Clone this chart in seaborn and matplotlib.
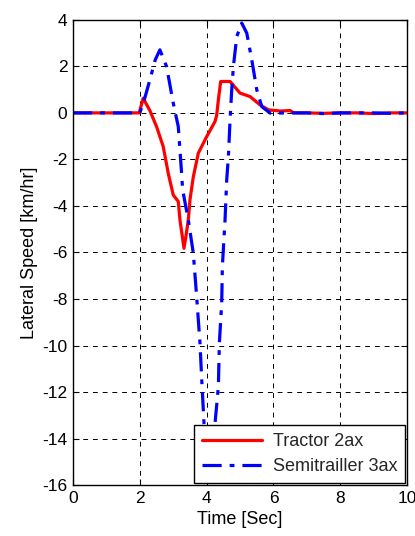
import matplotlib
matplotlib.use("Agg")
import matplotlib.pyplot as plt
import seaborn as sns
import pandas as pd

# Tractor 2ax
t_tractor = [0.0, 1.0, 1.98, 2.1, 2.3, 2.5, 2.7, 2.85, 3.0, 3.15, 3.2, 3.27, 3.32, 3.38, 3.45, 3.5,
             3.6, 3.75, 4.0, 4.25, 4.3, 4.35, 4.42, 4.7, 4.85, 5.0, 5.3, 5.6, 5.85, 6.2, 6.5, 6.6,
             7.0, 7.5, 8.0, 8.5, 9.0, 9.5, 10.0]
v_tractor = [0.0, 0.0, 0.0, 0.63, 0.1, -0.59, -1.45, -2.6, -3.53, -3.81, -4.6, -5.3, -5.82, -5.3, -4.6, -3.74,
             -2.75, -1.73, -1.02, -0.37, -0.1, 0.56, 1.35, 1.35, 1.1, 0.85, 0.7, 0.34, 0.13, 0.08, 0.1, 0.0,
             0.0, -0.02, 0.0, 0.0, -0.03, 0.0, 0.0]

# Semitrailler 3ax
t_semi = [0.0, 1.0, 2.0, 2.16, 2.3, 2.46, 2.6, 2.8, 3.0, 3.15, 3.25, 3.28, 3.45, 3.6, 3.7, 3.8,
          3.85, 3.92, 4.0, 4.08, 4.17, 4.25, 4.35, 4.38, 4.45, 4.47, 4.55, 4.6, 4.65, 4.7, 4.75,
          4.8, 4.9, 5.05, 5.2, 5.35, 5.5, 5.65, 5.9, 6.5, 7.0, 7.5, 8.0, 8.5, 9.0, 9.5, 10.0]
v_semi = [0.0, 0.0, 0.0, 0.7, 1.42, 2.28, 2.71, 1.99, 0.42, -0.59, -2.6, -3.3, -4.6, -6.03, -7.9, -9.9,
          -11.4, -13.35, -14.6, -15.2, -14.6, -13.35, -11.77, -9.9, -8.18, -6.6, -4.6, -2.88, -1.88, -0.3, 0.99,
          1.99, 3.28, 3.86, 3.43, 2.28, 0.99, 0.27, -0.01, 0.0, 0.0, -0.03, 0.0, 0.0, 0.0, -0.02, 0.0]

sns.set_theme(style="white")
plt.rcParams['font.family'] = ['Liberation Sans', 'DejaVu Sans']
plt.rcParams['axes.unicode_minus'] = False

fig = plt.figure(figsize=(4.15, 5.36), dpi=100)
ax = fig.add_axes([0.176, 0.095, 0.805, 0.868])

df_t = pd.DataFrame({"t": t_tractor, "v": v_tractor})
df_s = pd.DataFrame({"t": t_semi, "v": v_semi})
sns.lineplot(data=df_t, x="t", y="v", ax=ax, color="#ff0000", linewidth=2.3,
             label="Tractor 2ax", sort=False)
sns.lineplot(data=df_s, x="t", y="v", ax=ax, color="#0000ff", linewidth=2.3,
             linestyle=(0, (6, 2.5, 1.5, 2.5)), label="Semitrailler 3ax", sort=False)

ax.set_xlim(0, 10)
ax.set_ylim(-16, 4)
ax.set_xticks(range(0, 11, 2))
ax.set_yticks(range(-16, 5, 2))
ax.grid(True, color="black", linestyle=(0, (5, 5)), linewidth=0.7)
ax.tick_params(direction="in", length=4, width=0.8, colors="black", labelsize=12.5,
               top=True, right=True, bottom=True, left=True, pad=4)
for s in ax.spines.values():
    s.set_color("black")
    s.set_linewidth(1.0)
ax.set_xlabel("Time [Sec]", fontsize=13, color="black", labelpad=4)
ax.set_ylabel("Lateral Speed [km/hr]", fontsize=13, color="black", labelpad=3)

leg = ax.legend(loc="lower right", fontsize=13, frameon=True, fancybox=False,
                edgecolor="black", framealpha=1, borderaxespad=0.1, handlelength=3.3,
                handletextpad=0.6, borderpad=0.45, labelspacing=0.45)
leg.get_frame().set_linewidth(1.0)

fig.savefig("out.png", dpi=100)
